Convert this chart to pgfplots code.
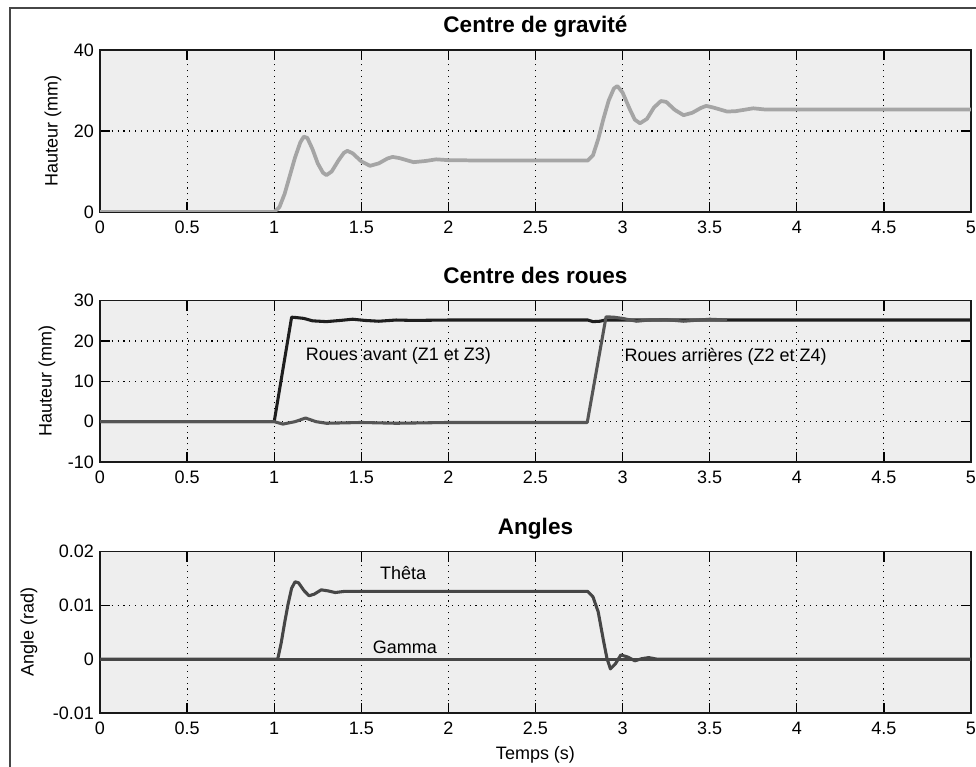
\documentclass[border=0pt]{standalone}
\usepackage{fontspec}
\setmainfont{Liberation Sans}
\usepackage{pgfplots}
\pgfplotsset{compat=1.18}
\definecolor{axbg}{RGB}{238,238,238}
\definecolor{cog}{RGB}{165,165,165}
\definecolor{front}{RGB}{30,30,30}
\definecolor{rear}{RGB}{85,85,85}
\definecolor{ang}{RGB}{70,70,70}
\definecolor{frame}{RGB}{70,70,70}
\newcommand\lblfont{\fontsize{13.5}{15}\selectfont}
\newcommand\ttlfont{\fontsize{16.9}{19}\selectfont\bfseries}
\pgfplotsset{
  mat/.style={
    scale only axis,
    width=653.25pt,
    xmin=0, xmax=5,
    xtick={0,0.5,1,1.5,2,2.5,3,3.5,4,4.5,5},
    xticklabels={0,0.5,1,1.5,2,2.5,3,3.5,4,4.5,5},
    grid=major,
    major grid style={black, line width=0.8pt, dash pattern=on 0.8pt off 3.6pt},
    tick align=inside,
    major tick length=7.5pt,
    every tick/.style={black, line width=1pt},
    axis background/.style={fill=axbg},
    axis line style={black!90, line width=1.1pt},
    tick label style={font=\lblfont},
    xticklabel style={yshift=-3.5pt},
    yticklabel style={xshift=-1pt},
    label style={font=\lblfont},
    title style={font=\ttlfont, at={(0.5,1)}, anchor=base, yshift=7pt},
    /pgf/number format/assume math mode=true,
    scaled ticks=false,
    clip=true,
  }
}
\begin{document}
\begin{tikzpicture}
\path[use as bounding box, fill=white] (0pt,0pt) rectangle (732pt,575.25pt);
\draw[frame, line width=1.6pt] (7.5pt,0pt) -- (7.5pt,569.25pt) -- (733pt,569.25pt);

% ---------- Plot 1 ----------
\begin{axis}[mat, at={(75pt,416.25pt)}, anchor=south west, height=121.5pt,
  ymin=0, ymax=40, ytick={0,20,40}, yticklabels={0,20,40},
  title={Centre de gravité},
  ylabel={Hauteur (mm)},
  ylabel style={at={(axis description cs:-0.054,0.5)}, anchor=center}]
\addplot[cog, line width=2.8pt, line join=round] coordinates {
(0,0) (1.0,0) (1.03,1.2) (1.06,4.5) (1.09,9) (1.12,13.5) (1.15,17.2) (1.17,18.6)
(1.19,18.3) (1.22,15.5) (1.25,12) (1.28,9.7) (1.30,9.1) (1.33,10) (1.37,12.8)
(1.40,14.6) (1.42,15.1) (1.45,14.5) (1.5,12.5) (1.55,11.4) (1.6,12) (1.65,13.2)
(1.68,13.6) (1.72,13.3) (1.8,12.3) (1.87,12.6) (1.93,13.0) (2.0,12.8) (2.2,12.7)
(2.8,12.7) (2.83,14) (2.86,18) (2.89,23) (2.92,27.5) (2.95,30.5) (2.97,31.1)
(3.0,29.5) (3.04,25.5) (3.07,22.8) (3.10,21.9) (3.14,23) (3.18,25.8) (3.22,27.4)
(3.25,27.2) (3.3,25.2) (3.35,23.9) (3.4,24.5) (3.45,25.7) (3.48,26.2) (3.52,25.8)
(3.6,24.8) (3.65,24.9) (3.75,25.6) (3.82,25.3) (3.9,25.3) (5,25.3)};
\end{axis}

% ---------- Plot 2 ----------
\begin{axis}[mat, at={(75pt,228.75pt)}, anchor=south west, height=121pt,
  ymin=-10, ymax=30, ytick={-10,0,10,20,30}, yticklabels={-10,0,10,20,30},
  title={Centre des roues},
  ylabel={Hauteur (mm)},
  ylabel style={at={(axis description cs:-0.061,0.5)}, anchor=center}]
\addplot[front, line width=2.3pt, line join=round] coordinates {
(0,0) (1.0,0) (1.10,25.9) (1.13,25.8) (1.17,25.6) (1.22,25.0) (1.3,24.8) (1.38,25.1)
(1.45,25.4) (1.52,25.1) (1.6,24.9) (1.7,25.2) (1.8,25.1) (2.0,25.2) (2.8,25.2)
(2.83,24.8) (2.87,24.9) (2.9,25.2) (5,25.2)};
\addplot[rear, line width=2.3pt, line join=round] coordinates {
(0,0) (1.0,0) (1.05,-0.6) (1.12,0.0) (1.18,0.9) (1.24,0.0) (1.3,-0.4) (1.5,-0.2)
(1.7,-0.4) (2.0,-0.2) (2.797,-0.2) (2.905,26.0) (2.95,25.9) (3.0,25.6) (3.08,24.9)
(3.15,25.2) (3.25,25.3) (3.35,24.9) (3.5,25.4) (3.6,25.2)};
\node[anchor=west, inner sep=0pt, font=\lblfont] at (axis cs:1.18,16.3) {Roues avant (Z1 et Z3)};
\node[anchor=west, inner sep=0pt, font=\lblfont] at (axis cs:3.01,16.1) {Roues arrières (Z2 et Z4)};
\end{axis}

% ---------- Plot 3 ----------
\begin{axis}[mat, at={(75pt,40.5pt)}, anchor=south west, height=121pt,
  ymin=-0.01, ymax=0.02, ytick={-0.01,0,0.01,0.02}, yticklabels={-0.01,0,0.01,0.02},
  title={Angles},
  ylabel={Angle (rad)},
  ylabel style={at={(axis description cs:-0.0815,0.5)}, anchor=center},
  xlabel={Temps (s)},
  xlabel style={at={(axis description cs:0.5,0)}, anchor=base, yshift=-35.2pt}]
\addplot[ang, line width=2.3pt, line join=round] coordinates {(0,0) (5,0)};
\addplot[ang, line width=2.3pt, line join=round] coordinates {
(0,0) (1.02,0) (1.04,0.003) (1.06,0.0068) (1.08,0.0103) (1.10,0.0132) (1.12,0.0144)
(1.14,0.0142) (1.17,0.0128) (1.2,0.0118) (1.23,0.0121) (1.27,0.0129) (1.31,0.0127)
(1.35,0.0124) (1.4,0.0126) (2.8,0.0126) (2.83,0.0116) (2.86,0.0088) (2.89,0.0035)
(2.91,0.0002) (2.93,-0.0018) (2.96,-0.0008) (2.99,0.0008) (3.03,0.0004) (3.07,-0.0003)
(3.11,0.0001) (3.15,0.0003) (3.2,0) (5,0)};
\node[font=\lblfont] at (axis cs:1.74,0.0161) {Thêta};
\node[font=\lblfont] at (axis cs:1.75,0.0022) {Gamma};
\end{axis}
\end{tikzpicture}
\end{document}
